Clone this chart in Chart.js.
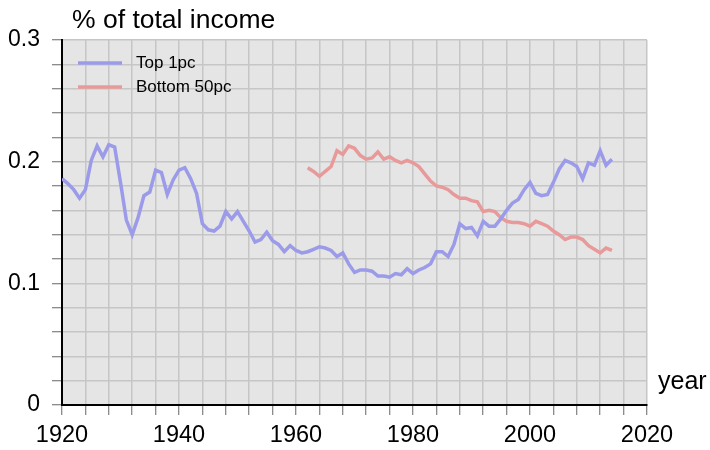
<!DOCTYPE html>
<html>
<head>
<meta charset="utf-8">
<script src="https://cdn.jsdelivr.net/npm/chart.js@4"></script>
<style>
  body { margin: 0; background: #fff; }
  canvas { display: block; }
</style>
</head>
<body>
<canvas id="grafico" width="710" height="450"></canvas>
<script>
// Datos
const topYears = [1920,1921,1922,1923,1924,1925,1926,1927,1928,1929,1930,1931,1932,1933,1934,1935,1936,1937,1938,1939,1940,1941,1942,1943,1944,1945,1946,1947,1948,1949,1950,1951,1952,1953,1954,1955,1956,1957,1958,1959,1960,1961,1962,1963,1964,1965,1966,1967,1968,1969,1970,1971,1972,1973,1974,1975,1976,1977,1978,1979,1980,1981,1982,1983,1984,1985,1986,1987,1988,1989,1990,1991,1992,1993,1994,1995,1996,1997,1998,1999,2000,2001,2002,2003,2004,2005,2006,2007,2008,2009,2010,2011,2012,2013,2014]
const top1pc = [0.186,0.182,0.177,0.170,0.177,0.201,0.213,0.204,0.214,0.212,0.183,0.152,0.140,0.154,0.172,0.175,0.193,0.191,0.173,0.185,0.193,0.195,0.186,0.174,0.149,0.144,0.143,0.147,0.159,0.153,0.159,0.151,0.143,0.134,0.136,0.142,0.135,0.132,0.126,0.131,0.127,0.125,0.126,0.128,0.130,0.129,0.127,0.122,0.125,0.116,0.109,0.111,0.111,0.110,0.106,0.106,0.105,0.108,0.107,0.112,0.108,0.111,0.113,0.116,0.126,0.126,0.122,0.132,0.149,0.145,0.146,0.139,0.151,0.147,0.147,0.153,0.160,0.166,0.169,0.177,0.183,0.174,0.172,0.173,0.183,0.194,0.201,0.199,0.196,0.186,0.199,0.197,0.209,0.197,0.202]

const bottomYears = [1962,1963,1964,1965,1966,1967,1968,1969,1970,1971,1972,1973,1974,1975,1976,1977,1978,1979,1980,1981,1982,1983,1984,1985,1986,1987,1988,1989,1990,1991,1992,1993,1994,1995,1996,1997,1998,1999,2000,2001,2002,2003,2004,2005,2006,2007,2008,2009,2010,2011,2012,2013,2014]
const bottom50pc = [0.195,0.192,0.188,0.192,0.196,0.209,0.206,0.213,0.211,0.205,0.202,0.203,0.208,0.202,0.204,0.201,0.199,0.201,0.199,0.196,0.190,0.184,0.180,0.179,0.177,0.173,0.170,0.170,0.168,0.167,0.159,0.160,0.159,0.154,0.151,0.150,0.150,0.149,0.147,0.151,0.149,0.147,0.143,0.140,0.136,0.138,0.138,0.136,0.131,0.128,0.125,0.129,0.127]

const seriesLabels = ['Top 1pc', 'Bottom 50pc']
const xLabelYears = [1920, 1940, 1960, 1980, 2000, 2020]
const yLabelValues = [0, 0.1, 0.2, 0.3]

const FUENTE = "'Liberation Sans', Arial, sans-serif"
const AZUL = '#9b9be9'
const ROJO = '#e89a9a'

// Fondo gris del área de trazado
const fondoPlugin = {
    id: 'fondo',
    beforeDraw(chart) {
        const { ctx, chartArea: a } = chart
        ctx.save()
        ctx.fillStyle = '#e5e5e5'
        ctx.fillRect(a.left, a.top, a.right - a.left, a.bottom - a.top)
        ctx.restore()
    }
}

// Títulos de ejes y leyenda dentro del área
const textosPlugin = {
    id: 'textos',
    afterDraw(chart) {
        const { ctx, chartArea: a } = chart
        ctx.save()
        ctx.fillStyle = '#000'
        ctx.textBaseline = 'alphabetic'
        ctx.textAlign = 'left'
        ctx.font = '26.5px ' + FUENTE
        ctx.fillText('% of total income', a.left + 10, a.top - 12)
        ctx.font = '25px ' + FUENTE
        ctx.fillText('year', a.right + 11, a.bottom - 16)

        // leyenda
        ctx.font = '17px ' + FUENTE
        ctx.textBaseline = 'middle'
        chart.data.datasets.forEach((ds, i) => {
            const y = a.top + 23 + i * 24
            ctx.strokeStyle = ds.borderColor
            ctx.lineWidth = ds.borderWidth
            ctx.beginPath()
            ctx.moveTo(a.left + 16, y)
            ctx.lineTo(a.left + 60, y)
            ctx.stroke()
            ctx.fillStyle = '#000'
            ctx.fillText(ds.label, a.left + 74, y)
        })
        ctx.restore()
    }
}

function crearGrafico(ctx) {
    return new Chart(ctx, {
        type: 'line',
        data: {
            datasets: [
                {
                    label: seriesLabels[0],
                    data: topYears.map((x, i) => ({ x, y: top1pc[i] })),
                    borderColor: AZUL, borderWidth: 3.5, pointRadius: 0, tension: 0, fill: false
                },
                {
                    label: seriesLabels[1],
                    data: bottomYears.map((x, i) => ({ x, y: bottom50pc[i] })),
                    borderColor: ROJO, borderWidth: 3.5, pointRadius: 0, tension: 0, fill: false
                }
            ]
        },
        options: {
            responsive: false,
            animation: false,
            layout: { padding: { top: 40, right: 63, left: 0, bottom: 0 } },
            plugins: { legend: { display: false }, tooltip: { enabled: false } },
            scales: {
                x: {
                    type: 'linear',
                    min: 1920, max: 2020,
                    grid: { color: '#c6c6c6', lineWidth: 1.5, tickLength: 10, tickColor: '#666', tickWidth: 1 },
                    border: { color: '#000', width: 2 },
                    ticks: {
                        stepSize: 4, autoSkip: false, maxRotation: 0, padding: 6,
                        color: '#000', font: { size: 23.5, family: FUENTE },
                        callback: v => xLabelYears.includes(v) ? String(v) : ''
                    },
                    afterFit: s => { s.height = 45 }
                },
                y: {
                    min: 0, max: 0.3,
                    grid: { color: '#c6c6c6', lineWidth: 1.5, tickLength: 10, tickColor: '#666', tickWidth: 1 },
                    border: { color: '#000', width: 2 },
                    ticks: {
                        stepSize: 0.02, autoSkip: false, padding: 12,
                        color: '#000', font: { size: 23, family: FUENTE },
                        callback: v => {
                            const hit = yLabelValues.find(t => Math.abs(t - v) < 1e-6)
                            return hit !== undefined ? String(hit) : ''
                        }
                    },
                    afterFit: s => { s.width = 62 }
                }
            }
        },
        plugins: [fondoPlugin, textosPlugin]
    })
}

crearGrafico(document.getElementById('grafico'))
</script>
</body>
</html>
